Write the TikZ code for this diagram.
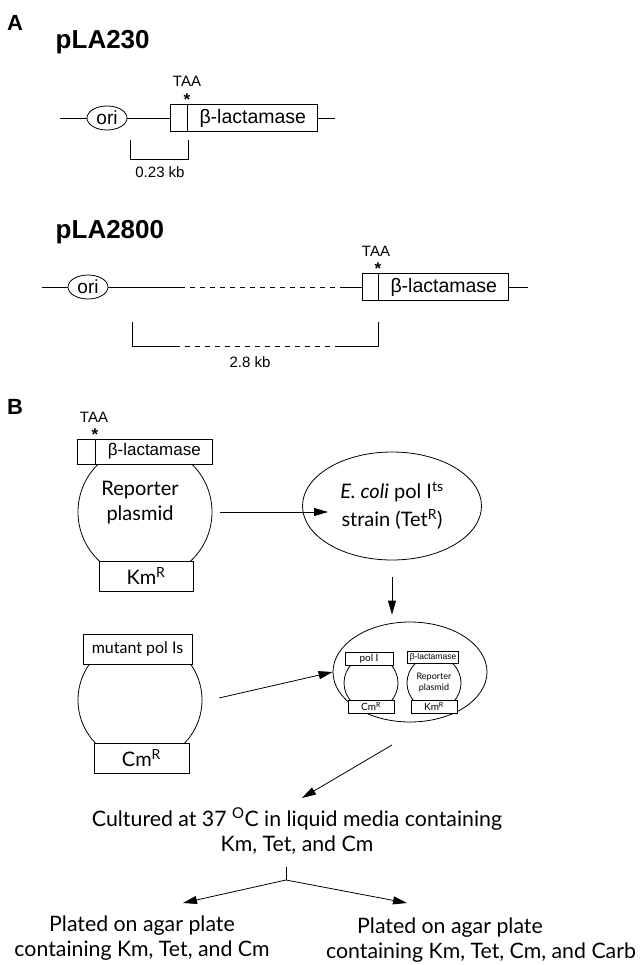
\documentclass[tikz,border=0pt]{standalone}
\usepackage{fontspec}
\setmainfont{Lato}
\newfontfamily\arialfont{Liberation Sans}
\usetikzlibrary{arrows.meta,positioning,shapes.geometric,calc}

\begin{document}
\begin{tikzpicture}[x=1pt, y=-1pt,
    line width=0.8pt,
    arr/.style={-{Triangle[length=14pt,width=8pt]}},
    panel/.style={font=\arialfont\bfseries\fontsize{22}{24}\selectfont},
    plname/.style={font=\arialfont\bfseries\fontsize{26}{28}\selectfont, anchor=west},
    small/.style={font=\arialfont\fontsize{15}{17}\selectfont},
    star/.style={font=\arialfont\bfseries\fontsize{17}{18}\selectfont, anchor=base, inner sep=0pt},
    oribox/.style={draw, ellipse, minimum width=40pt, minimum height=24pt, inner sep=0pt, font=\arialfont\fontsize{19}{21}\selectfont},
    genebox/.style={draw, fill=white, inner sep=0pt, minimum height=27pt, font=\arialfont\fontsize{19.5}{21}\selectfont},
    btext/.style={font=\fontsize{21.3}{25}\selectfont, align=center},
    plasmid/.style={draw, circle, inner sep=0pt},
    markerbox/.style={draw, fill=white, inner sep=0pt, font=\fontsize{20}{22}\selectfont},
    tinybox/.style={draw, fill=white, inner sep=0pt, minimum height=13pt, font=\fontsize{10}{11}\selectfont},
    cell/.style={draw, ellipse, inner sep=0pt}]
  \useasboundingbox (0,0) rectangle (640,965);

  % Panel A
  \node[panel] (lblA) at (15,23) {A};
  \node[plname] (pla230) at (52,42) {pLA230};
  % pLA230
  \coordinate (start1) at (60,118);
  \coordinate (end1) at (335,118);
  \node[oribox] (ori1) at (107,118) {ori};
  \node[genebox, minimum width=17pt] (stop1) at (178.5,118) {};
  \node[genebox, minimum width=130pt, right=0pt of stop1] (bla1) {β-lactamase};
  \node[small] (taa1) at (187,81) {TAA};
  \node[star] (star1) at (187,106) {*};
  \draw (start1) -- (ori1) -- (stop1);
  \draw (bla1) -- (end1);
  \coordinate (br1l) at (130,140);
  \coordinate (br1r) at (188,140);
  \draw (br1l) -- ++(0,19) -| (br1r);
  \node[small] (kb1) at (160,172) {0.23 kb};

  \node[plname] (pla2800) at (52,232) {pLA2800};
  % pLA2800
  \coordinate (start2) at (42,287);
  \coordinate (gap1) at (180,287);
  \coordinate (gap2) at (345,287);
  \coordinate (end2) at (528,287);
  \node[oribox] (ori2) at (88,287) {ori};
  \node[genebox, minimum width=16pt] (stop2) at (370,287) {};
  \node[genebox, minimum width=130pt, right=0pt of stop2] (bla2) {β-lactamase};
  \node[small] (taa2) at (376,251) {TAA};
  \node[star] (star2) at (378,275) {*};
  \draw (start2) -- (ori2) -- (gap1);
  \draw[dash pattern=on 5pt off 5pt] (gap1) -- (gap2);
  \draw (gap2) -- (stop2);
  \draw (bla2) -- (end2);
  \coordinate (br2l) at (132,322);
  \coordinate (br2a) at (175,346);
  \coordinate (br2b) at (335,346);
  \coordinate (br2r) at (378,322);
  \draw (br2l) |- (br2a);
  \draw[dash pattern=on 5pt off 5pt] (br2a) -- (br2b);
  \draw (br2b) -| (br2r);
  \node[small] (kb2) at (250,362) {2.8 kb};

  % Panel B
  \node[panel] (lblB) at (15,407) {B};
  % reporter plasmid
  \node[plasmid, minimum size=134pt] (rpcirc) at (145,512) {};
  \node[small] (taa3) at (94,417) {TAA};
  \node[star] (star3) at (95,440) {*};
  \node[genebox, minimum width=18pt, minimum height=25pt] (stop3) at (86,451.5) {};
  \node[genebox, minimum width=117pt, minimum height=25pt, right=0pt of stop3, font=\arialfont\fontsize{17}{19}\selectfont] (bla3) {β-lactamase};
  \node[btext, font=\fontsize{20}{25}\selectfont] (rptext) at (140,503) {Reporter\\plasmid};
  \node[markerbox, minimum width=94pt, minimum height=30pt] (km1) at (146,576) {Km\textsuperscript{R}};
  % E. coli strain
  \node[cell, minimum width=179pt, minimum height=108pt, font=\fontsize{20}{28}\selectfont, align=center] (ecoli) at (392,506) {\textit{E. coli} pol I\textsuperscript{ts}\\strain (Tet\textsuperscript{R})};
  \coordinate (rp-out) at (220,512);
  \coordinate (eco-in) at (328,512);
  \draw[arr] (rp-out) -- (eco-in);

  % mutant pol I plasmid
  \node[plasmid, minimum size=124pt] (mpcirc) at (140,700) {};
  \node[markerbox, minimum width=109pt, minimum height=30pt, font=\fontsize{16}{18}\selectfont] (mutpol) at (137.5,649) {mutant pol Is};
  \node[markerbox, minimum width=95pt, minimum height=30pt] (cm1) at (141.5,758) {Cm\textsuperscript{R}};

  % transformed cell
  \node[cell, minimum width=154pt, minimum height=100pt] (cell) at (410,672) {};
  \node[plasmid, minimum size=54pt] (polcirc) at (371,683) {};
  \node[tinybox, minimum width=48pt] (pol2) at (369,658.5) {pol I};
  \node[tinybox, minimum width=46pt] (cm2) at (371,706.5) {Cm\textsuperscript{R}};
  \node[plasmid, minimum size=54pt, font=\fontsize{9}{11}\selectfont, align=center] (rpcirc2) at (434,683) {Reporter\\plasmid};
  \node[tinybox, minimum width=51pt, minimum height=12pt, font=\arialfont\fontsize{8.5}{10}\selectfont] (bla4) at (433,657.5) {β-lactamase};
  \node[tinybox, minimum width=46pt] (km2) at (434,706.5) {Km\textsuperscript{R}};

  \draw[arr, shorten <=17pt, shorten >=7pt] (ecoli.south) -- (ecoli.south |- cell.north);
  \coordinate (mp-out) at (219,698);
  \draw[arr] (mp-out) -- (cell.west);

  % culture and plating
  \node[btext] (cultured) at (297,831) {Cultured at 37 \textsuperscript{O}C in liquid media containing\\Km, Tet, and Cm};
  \coordinate (cell-out) at (392,745);
  \coordinate (cult-in) at (302,798);
  \draw[arr] (cell-out) -- (cult-in);
  \coordinate (split-top) at (286,867);
  \coordinate (split) at (286,880);
  \coordinate (plateL-in) at (183,903);
  \coordinate (plateR-in) at (407,903);
  \draw (split-top) -- (split);
  \draw[arr] (split) -- (plateL-in);
  \draw[arr] (split) -- (plateR-in);
  \node[btext] (plateL) at (142,938) {Plated on agar plate\\containing Km, Tet, and Cm};
  \node[btext] (plateR) at (481,940) {Plated on agar plate\hspace*{62pt}\\containing Km, Tet, Cm, and Carb};
\end{tikzpicture}
\end{document}
